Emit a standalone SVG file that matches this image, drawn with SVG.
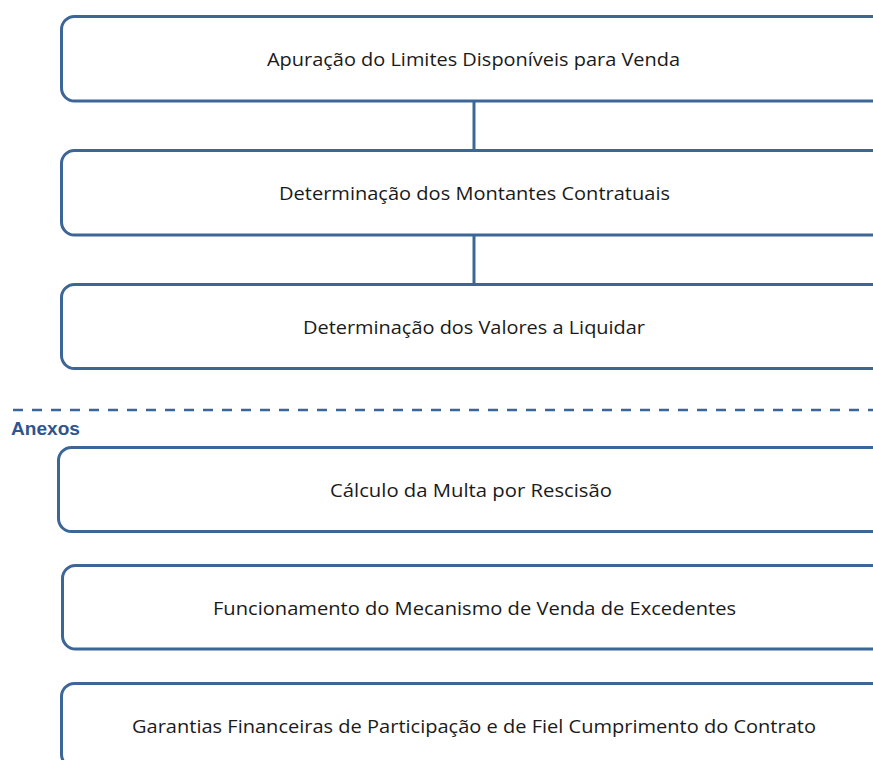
<svg xmlns="http://www.w3.org/2000/svg" width="873" height="760" viewBox="0 0 873 760">
<style>
.box{fill:#ffffff;stroke:#3d6698;stroke-width:3}
.lbl{font-family:"Open Sans","Liberation Sans",sans-serif;font-size:18px;fill:#1a1a1a;text-anchor:middle}
.conn{stroke:#3d6698;stroke-width:3;fill:none}
.sep{stroke:#3d6698;stroke-width:2.5;stroke-dasharray:10 9;fill:none}
.anx{font-family:"Liberation Sans",Arial,sans-serif;font-size:18px;font-weight:bold;fill:#2f5590}
</style>
<rect width="873" height="760" fill="#ffffff"/>
<g id="connectors">
<line class="conn" x1="474" y1="101" x2="474" y2="150"/>
<line class="conn" x1="474" y1="235" x2="474" y2="284"/>
</g>
<g id="n1">
<rect class="box" x="61.5" y="16.5" width="826" height="84.5" rx="13"/>
<text class="lbl" x="473.5" y="66" textLength="413" lengthAdjust="spacingAndGlyphs">Apuração do Limites Disponíveis para Venda</text>
</g>
<g id="n2">
<rect class="box" x="61.5" y="150.5" width="826" height="84.5" rx="13"/>
<text class="lbl" x="474.5" y="200" textLength="391" lengthAdjust="spacingAndGlyphs">Determinação dos Montantes Contratuais</text>
</g>
<g id="n3">
<rect class="box" x="61.5" y="284.5" width="826" height="84" rx="13"/>
<text class="lbl" x="474" y="334" textLength="342" lengthAdjust="spacingAndGlyphs">Determinação dos Valores a Liquidar</text>
</g>
<g id="separator">
<line class="sep" x1="13" y1="410" x2="873" y2="410"/>
<text class="anx" x="11" y="435" textLength="69" lengthAdjust="spacingAndGlyphs">Anexos</text>
</g>
<g id="n4">
<rect class="box" x="58.5" y="447.5" width="826" height="84" rx="13"/>
<text class="lbl" x="471" y="497" textLength="282" lengthAdjust="spacingAndGlyphs">Cálculo da Multa por Rescisão</text>
</g>
<g id="n5">
<rect class="box" x="62.5" y="565.5" width="826" height="83.5" rx="13"/>
<text class="lbl" x="474.5" y="615" textLength="523" lengthAdjust="spacingAndGlyphs">Funcionamento do Mecanismo de Venda de Excedentes</text>
</g>
<g id="n6">
<rect class="box" x="61.5" y="683.5" width="826" height="84" rx="13"/>
<text class="lbl" x="474" y="733" textLength="684" lengthAdjust="spacingAndGlyphs">Garantias Financeiras de Participação e de Fiel Cumprimento do Contrato</text>
</g>
</svg>
